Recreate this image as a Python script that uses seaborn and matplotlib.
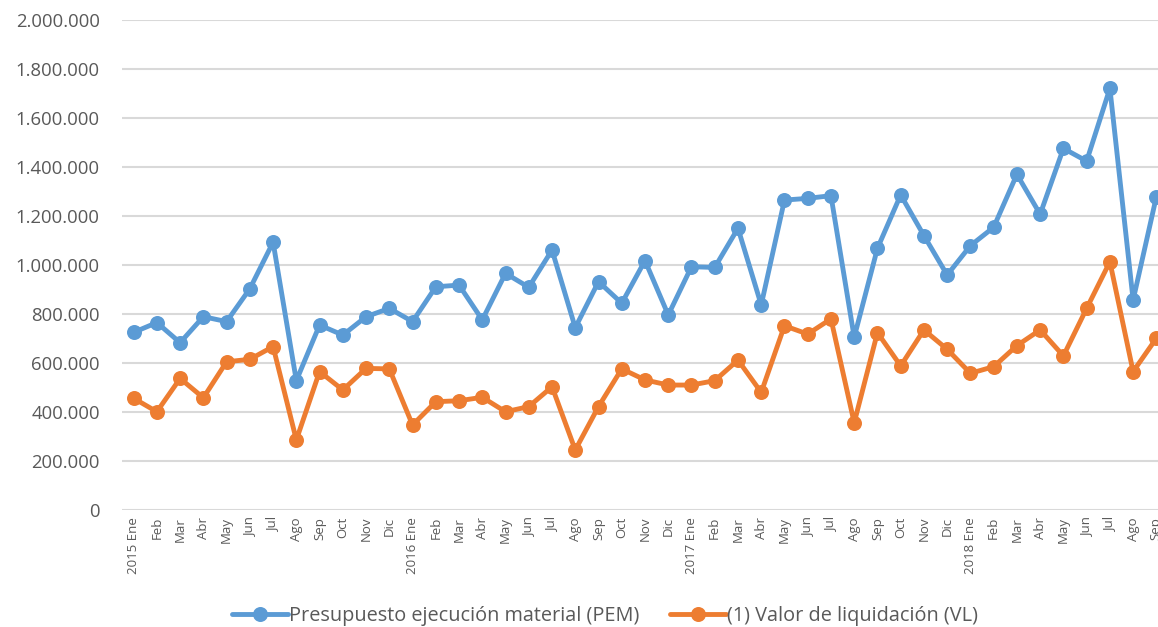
import matplotlib
matplotlib.use("Agg")
import matplotlib.pyplot as plt
import seaborn as sns
import pandas as pd
from matplotlib.ticker import FuncFormatter

months = ["Ene", "Feb", "Mar", "Abr", "May", "Jun", "Jul", "Ago", "Sep", "Oct", "Nov", "Dic"]
tick_labels = (["2015 Ene"] + months[1:] + ["2016 Ene"] + months[1:] +
               ["2017 Ene"] + months[1:] + ["2018 Ene"] + months[1:9])

pem = [725, 765, 683, 789, 769, 903, 1093, 528, 755, 714, 789, 823,
       769, 911, 918, 776, 966, 909, 1061, 744, 932, 844, 1018, 796,
       993, 990, 1150, 837, 1265, 1272, 1283, 705, 1068, 1286, 1120, 959,
       1079, 1154, 1370, 1207, 1476, 1424, 1721, 857, 1279]
vl = [456, 401, 537, 458, 605, 615, 667, 286, 565, 490, 578, 576,
      347, 442, 446, 460, 401, 422, 503, 245, 422, 576, 531, 510,
      510, 528, 612, 480, 752, 718, 780, 356, 724, 588, 735, 656,
      558, 585, 671, 735, 629, 823, 1013, 565, 701]
pem = [v * 1000 for v in pem]
vl = [v * 1000 for v in vl]

series_names = ["Presupuesto ejecución material (PEM)", "(1) Valor de liquidación (VL)"]
colors = ["#5B9BD5", "#ED7D31"]

n = len(tick_labels)
df = pd.DataFrame({
    "idx": list(range(n)) * 2,
    "value": pem + vl,
    "serie": [series_names[0]] * n + [series_names[1]] * n,
})

sns.set_theme(style="white")
plt.rcParams["font.family"] = ["Open Sans", "DejaVu Sans"]
text_color = "#595959"

fig = plt.figure(figsize=(11.58, 6.27), dpi=100)
ax = fig.add_axes([122 / 1158, 1 - 510 / 627, 1 - 122 / 1158, (510 - 20) / 627])

sns.lineplot(data=df, x="idx", y="value", hue="serie", palette=colors,
             hue_order=series_names, marker="o", markersize=10.8,
             markeredgewidth=0, linewidth=3.5, sort=False, legend=False, ax=ax)

ax.set_xlim(-0.5, 44.07)
ax.set_ylim(0, 2_000_000)
ax.set_yticks(range(0, 2_000_001, 200_000))
ax.yaxis.set_major_formatter(FuncFormatter(lambda v, p: f"{int(v):,}".replace(",", ".")))
ax.set_xticks(range(n))
ax.set_xticklabels(tick_labels, rotation=90, fontsize=9.5, color=text_color)
ax.tick_params(axis="y", length=0, pad=16, labelsize=13.3, labelcolor=text_color)
ax.tick_params(axis="x", length=0, pad=5)
ax.set_xlabel("")
ax.set_ylabel("")
ax.grid(axis="y", color="#D9D9D9", linewidth=1.5)
ax.grid(axis="x", visible=False)
ax.set_axisbelow(True)
for s in ax.spines.values():
    s.set_visible(False)

handles = ax.get_lines()[:2]
fig.legend(handles, series_names, loc="center", bbox_to_anchor=(605 / 1158, 11 / 627),
           ncol=2, frameon=False, fontsize=14.3, handlelength=2.85, columnspacing=1.5,
           handletextpad=0.05, labelcolor=text_color)

fig.savefig("out.png", dpi=100)
